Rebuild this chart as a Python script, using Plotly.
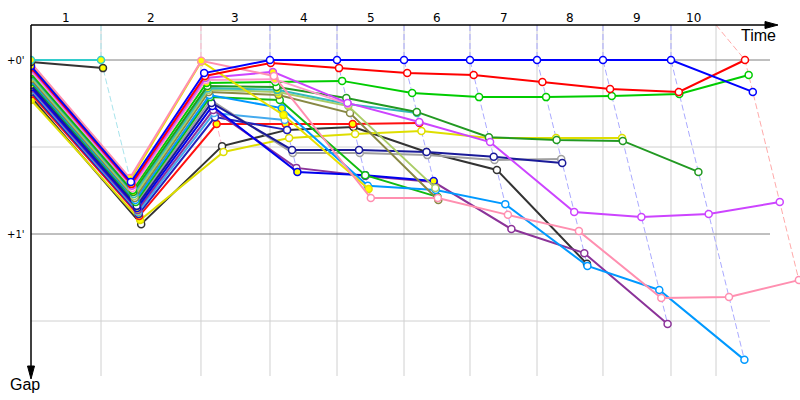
import plotly.graph_objects as go

# ---------------- data ----------------
lap_labels = ["1", "2", "3", "4", "5", "6", "7", "8", "9", "10"]
# reference lap boundary times (s) and leader crossing times (s)
lap_bounds = [98.6, 239.4, 336.6, 431.0, 525.4, 618.3, 712.7, 805.6, 901.4, 964.8]
leader_times = [98.6, 239.4, 336.6, 431.0, 525.4, 618.3, 712.7, 805.6, 901.4, 1005.6]
lap_line_colors = ["#a8e4ec", "#ffb8cc", "#aaaaff", "#aaaaff", "#aaaaff", "#aaaaff",
                   "#aaaaff", "#aaaaff", "#aaaaff", "#ffaaaa"]

gap_ticks = [0, 60]
gap_tick_labels = ["+0'", "+1'"]
gap_grid = [0, 30, 60, 90]
gap_grid_dark = [0, 60]

# gaps to leader in seconds, index 0 = start, index k = end of lap k
cyan_gaps = [0.0, 0.0]
black1_gaps = [0.7, 2.8]
pinkA_gaps = [1.0, 40.7, 0.3, 5.5, 47.6, 47.6, 53.4, 59.0, 82.1, 81.7, 75.9]
yellow1_gaps = [1.6, 41.4, 0.5, 19.0, 44.5]
blue_gaps = [2.1, 42.1, 4.5, 0.0, 0.0, 0.0, 0.0, 0.0, 0.0, 0.0, 11.0]
red_gaps = [2.6, 42.8, 5.5, 1.0, 2.8, 4.5, 5.2, 7.6, 10.0, 11.0, 0.0]
violet_gaps = [3.1, 43.4, 6.2, 4.1, 14.8, 21.4, 28.3, 52.4, 54.1, 53.1, 49.0]
pinkB_gaps = [3.8, 44.1, 6.9, 6.6, 15.2]
green_gaps = [4.3, 44.8, 7.9, 7.6, 7.2, 11.4, 12.8, 12.8, 12.4, 11.7, 5.2]
darkgreen_gaps = [4.8, 45.5, 9.0, 9.3, 13.1, 17.9, 26.6, 27.6, 27.9, 38.6]
teal_gaps = [5.3, 46.2, 9.7, 10.3, 15.2, 18.3]
yellowgreen_gaps = [5.9, 46.9, 10.3, 11.0, 15.9, 44.1]
olive_gaps = [6.6, 47.6, 11.0, 12.1, 18.3, 48.3]
lightblue_gaps = [7.1, 48.3, 12.1, 16.6, 43.4, 44.8, 49.7, 71.0, 79.3, 103.4]
green2_gaps = [7.6, 49.0, 12.8, 13.8, 39.7, 47.2]
gray_gaps = [8.1, 49.7, 13.8, 32.1, 32.1, 32.8, 34.5, 34.1]
navy_gaps = [8.6, 50.3, 14.8, 31.0, 31.0, 31.7, 33.4, 35.5]
blueY_gaps = [9.3, 51.0, 15.9, 38.6, 39.7, 41.7]
purple_gaps = [9.8, 51.7, 17.2, 37.2, 40.0, 42.1, 58.3, 66.6, 91.0]
skyblue_gaps = [10.3, 52.4, 18.3, 20.7]
darkblue_gaps = [11.0, 53.1, 19.7, 24.1]
red2_gaps = [11.7, 53.8, 22.1, 22.1, 22.1, 21.7]
black2_gaps = [12.8, 56.6, 29.7, 24.1, 23.1, 31.7, 37.9, 70.3]
yellow2_gaps = [13.8, 55.2, 31.7, 26.9, 25.5, 24.5, 26.9, 26.9, 26.9]

# laps whose marker is filled yellow
cyan_yel = [0, 1]
black1_yel = [0, 1]
pinkA_yel = [0, 1, 2]
yellow1_yel = [0, 1, 3, 4]
blue_yel = [0]
red_yel = [0, 1]
violet_yel = [0, 2, 3]
pinkB_yel = [0, 3]
green_yel = [0, 2]
darkgreen_yel = [0, 1]
teal_yel = [0, 2, 3, 4]
yellowgreen_yel = [0, 3, 4]
olive_yel = [0, 3]
lightblue_yel = [0, 3]
green2_yel = [0, 5]
gray_yel = [0]
navy_yel = [0]
blueY_yel = [0, 1, 3, 4, 5]
purple_yel = [0, 1]
skyblue_yel = [0, 1]
darkblue_yel = [0, 1]
red2_yel = [0, 1, 2, 3, 4, 5]
black2_yel = [0]
yellow2_yel = [0, 1]

drivers = [
    ("black2", "#333333", black2_gaps, black2_yel),
    ("yellow2", "#dede00", yellow2_gaps, yellow2_yel),
    ("red2", "#ff1010", red2_gaps, red2_yel),
    ("darkblue", "#2222bb", darkblue_gaps, darkblue_yel),
    ("skyblue", "#44aaee", skyblue_gaps, skyblue_yel),
    ("purple", "#8b3399", purple_gaps, purple_yel),
    ("blueY", "#0000ee", blueY_gaps, blueY_yel),
    ("gray", "#a0a0a0", gray_gaps, gray_yel),
    ("navy", "#1a1a99", navy_gaps, navy_yel),
    ("green2", "#11bb11", green2_gaps, green2_yel),
    ("lightblue", "#0099ff", lightblue_gaps, lightblue_yel),
    ("olive", "#888844", olive_gaps, olive_yel),
    ("yellowgreen", "#aacc66", yellowgreen_gaps, yellowgreen_yel),
    ("teal", "#33bbbb", teal_gaps, teal_yel),
    ("darkgreen", "#229922", darkgreen_gaps, darkgreen_yel),
    ("green", "#00cc00", green_gaps, green_yel),
    ("pinkB", "#ff99cc", pinkB_gaps, pinkB_yel),
    ("violet", "#cc44ff", violet_gaps, violet_yel),
    ("yellow1", "#e8e000", yellow1_gaps, yellow1_yel),
    ("pinkA", "#ff8fb0", pinkA_gaps, pinkA_yel),
    ("red", "#ff0000", red_gaps, red_yel),
    ("blue", "#0000ff", blue_gaps, blue_yel),
    ("black1", "#333333", black1_gaps, black1_yel),
    ("cyan", "#33cccc", cyan_gaps, cyan_yel),
]

# ---------------- geometry (pixel <-> data) ----------------
KX, KY = 0.71, 2.9       # px per second on time / gap axes
OX, OY = 31, 60          # pixel position of time 0 / gap 0
W, H = 800, 400


def tx(px):
    return (px - OX) / KX


def gy(py):
    return (py - OY) / KY


def times_of(gaps):
    return [0.0] + [leader_times[i - 1] + g for i, g in enumerate(gaps) if i > 0]


fig = go.Figure()

# dashed lap lines (through each lap's crossing points)
for k in range(len(leader_times)):
    lap_gaps = [d[2][k + 1] for d in drivers if len(d[2]) > k + 1]
    gmax = max(lap_gaps)
    fig.add_trace(go.Scatter(
        x=[lap_bounds[k], leader_times[k], leader_times[k] + gmax],
        y=[gy(25), 0, gmax],
        mode="lines",
        line=dict(color=lap_line_colors[k], width=1, dash="6px,3px"),
        hoverinfo="skip", showlegend=False))

# driver traces
for name, color, gaps, yel in drivers:
    fills = ["#ffff00" if i in yel else "#ffffff" for i in range(len(gaps))]
    fig.add_trace(go.Scatter(
        x=times_of(gaps), y=gaps, mode="lines+markers", name=name,
        line=dict(color=color, width=2),
        marker=dict(symbol="circle", size=7, color=fills,
                    line=dict(color=color, width=1.5)),
        showlegend=False))

shapes = []
# vertical grid lines
for t in lap_bounds:
    shapes.append(dict(type="line", x0=t, x1=t, y0=gy(25), y1=gy(376),
                       line=dict(color="#d0d0d0", width=1), layer="below"))
# horizontal grid lines
for g in gap_grid:
    shapes.append(dict(type="line", x0=0, x1=tx(770), y0=g, y1=g,
                       line=dict(color="#808080" if g in gap_grid_dark else "#d0d0d0", width=1),
                       layer="below"))
# white mask left of y axis
shapes.append(dict(type="rect", x0=tx(0), x1=tx(30.5), y0=gy(25), y1=gy(400),
                   fillcolor="white", line=dict(width=0), layer="above"))
# axes
shapes.append(dict(type="line", x0=0, x1=tx(768), y0=gy(25), y1=gy(25),
                   line=dict(color="black", width=1.5), layer="above"))
shapes.append(dict(type="line", x0=0, x1=0, y0=gy(25), y1=gy(367),
                   line=dict(color="black", width=1.5), layer="above"))
# arrow heads
shapes.append(dict(type="path", layer="above", fillcolor="black", line=dict(color="black", width=1),
                   path=f"M {tx(778)} {gy(25)} L {tx(765)} {gy(21.5)} L {tx(765)} {gy(28.5)} Z"))
shapes.append(dict(type="path", layer="above", fillcolor="black", line=dict(color="black", width=1),
                   path=f"M {tx(31)} {gy(379)} L {tx(27.5)} {gy(366)} L {tx(34.5)} {gy(366)} Z"))

annotations = []
bounds = [0.0] + lap_bounds
for i, lab in enumerate(lap_labels):
    annotations.append(dict(x=(bounds[i] + bounds[i + 1]) / 2, y=gy(18), text=lab,
                            showarrow=False, font=dict(size=12, color="black",
                                                       family="DejaVu Sans")))
for g, lab in zip(gap_ticks, gap_tick_labels):
    annotations.append(dict(x=tx(16), y=g, text=lab, showarrow=False,
                            font=dict(size=10, color="black", family="DejaVu Sans")))
annotations.append(dict(x=tx(758), y=gy(35), text="Time", showarrow=False,
                        font=dict(size=16, color="black", family="Liberation Sans")))
annotations.append(dict(x=tx(25), y=gy(384), text="Gap", showarrow=False,
                        font=dict(size=16, color="black", family="Liberation Sans")))

fig.update_layout(
    width=W, height=H,
    margin=dict(l=0, r=0, t=0, b=0, pad=0),
    paper_bgcolor="white", plot_bgcolor="white",
    xaxis=dict(range=[tx(0), tx(W)], visible=False, fixedrange=True),
    yaxis=dict(range=[gy(H), gy(0)], visible=False, fixedrange=True),
    shapes=shapes, annotations=annotations,
    showlegend=False,
)

fig.write_html("out.html", config={"displayModeBar": False},
               post_script="document.body.style.margin='0';document.body.style.padding='0';")
